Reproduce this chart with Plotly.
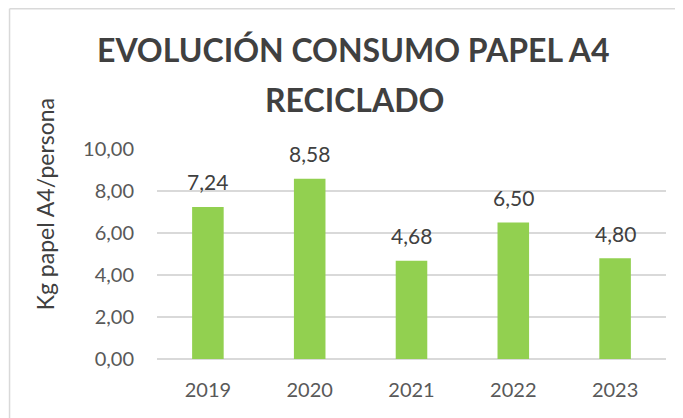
import plotly.graph_objects as go

years = ['2019', '2020', '2021', '2022', '2023']
kg_persona = [7.24, 8.58, 4.68, 6.50, 4.80]
labels = [f'{v:.2f}'.replace('.', ',') for v in kg_persona]

# page has an 8px body margin, so the figure is 8px smaller than the window
W, H = 675, 410
ml, mr, mt, mb = 148.5, 16.5, 141, 59
pw, ph = W - ml - mr, H - mt - mb


def px_x(x):
    return (x - ml) / pw


def px_y(y):
    return (H - mb - y) / ph


fig = go.Figure(go.Bar(
    x=years,
    y=kg_persona,
    marker=dict(color='#92D050', line=dict(width=0)),
    width=0.31,
))

# value labels; x given as category index so the axis range isn't stretched
annotations = [
    dict(x=i, y=v, xref='x', yref='y', text=lab, showarrow=False,
         yanchor='middle', yshift=25,
         font=dict(size=21, color='#404040'))
    for i, (v, lab) in enumerate(zip(kg_persona, labels))
]
annotations += [
    dict(x=px_x(345), y=px_y(42), xref='paper', yref='paper',
         text='<b>EVOLUCIÓN CONSUMO PAPEL A4</b>', showarrow=False,
         xanchor='center', yanchor='middle',
         font=dict(size=32, color='#404040')),
    dict(x=px_x(346), y=px_y(91), xref='paper', yref='paper',
         text='<b>RECICLADO</b>', showarrow=False,
         xanchor='center', yanchor='middle',
         font=dict(size=32, color='#404040')),
    dict(x=px_x(36), y=px_y(196.5), xref='paper', yref='paper',
         text='Kg papel A4/persona', showarrow=False, textangle=-90,
         xanchor='center', yanchor='middle',
         font=dict(size=23, color='#404040')),
]

fig.update_layout(
    width=W, height=H,
    margin=dict(l=ml, r=mr, t=mt, b=mb, autoexpand=False),
    paper_bgcolor='white', plot_bgcolor='white',
    separators=',.',
    font=dict(family='Lato, Open Sans, sans-serif', color='#595959'),
    xaxis=dict(type='category', range=[-0.5, len(years) - 0.5],
               tickfont=dict(size=20, color='#595959'),
               showline=False, showgrid=False,
               ticks='outside', ticklen=13, tickcolor='white'),
    yaxis=dict(range=[0, 10], dtick=2, tickformat='.2f',
               tickfont=dict(size=20, color='#595959'),
               gridcolor='#D9D9D9', gridwidth=1.5, zeroline=True,
               zerolinecolor='#D9D9D9', zerolinewidth=1.5,
               ticks='outside', ticklen=18, tickcolor='white'),
    showlegend=False,
    annotations=annotations,
    shapes=[
        dict(type='line', xref='paper', yref='paper',
             x0=px_x(0.75), x1=px_x(W), y0=px_y(0.75), y1=px_y(0.75),
             line=dict(color='#D9D9D9', width=1.5)),
        dict(type='line', xref='paper', yref='paper',
             x0=px_x(0.75), x1=px_x(0.75), y0=px_y(0.75), y1=px_y(H),
             line=dict(color='#D9D9D9', width=1.5)),
    ],
)

fig.write_html("out.html")
